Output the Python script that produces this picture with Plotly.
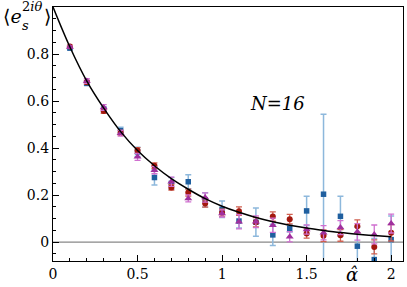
import plotly.graph_objects as go

alpha = [0.1, 0.2, 0.3, 0.4, 0.5, 0.6, 0.7, 0.8, 0.9, 1.0,
         1.1, 1.2, 1.3, 1.4, 1.5, 1.6, 1.7, 1.8, 1.9, 2.0]

blue = [0.825, 0.675, 0.565, 0.474, 0.384, 0.275, 0.250, 0.257, 0.180, 0.140,
        0.090, 0.085, 0.031, 0.058, 0.133, 0.204, 0.110, -0.017, -0.074, 0.011]
blue_err = [0.005, 0.008, 0.010, 0.015, 0.020, 0.032, 0.025, 0.030, 0.030, 0.035,
            0.030, 0.060, 0.045, 0.015, 0.062, 0.340, 0.085, 0.080, 0.090, 0.100]

red = [0.832, 0.680, 0.558, 0.465, 0.390, 0.325, 0.233, 0.211, 0.164, 0.125,
       0.132, 0.085, 0.109, 0.098, 0.037, 0.027, 0.029, 0.068, -0.020, 0.040]
red_err = [0.005, 0.008, 0.010, 0.010, 0.012, 0.012, 0.012, 0.015, 0.015, 0.015,
           0.018, 0.020, 0.020, 0.020, 0.020, 0.025, 0.025, 0.027, 0.030, 0.035]

purple = [0.830, 0.685, 0.573, 0.463, 0.363, 0.306, 0.257, 0.186, 0.190, 0.122,
          0.087, 0.087, 0.072, 0.023, 0.054, 0.040, 0.062, 0.044, 0.033, 0.079]
purple_err = [0.005, 0.010, 0.012, 0.012, 0.015, 0.015, 0.020, 0.015, 0.020, 0.015,
              0.030, 0.025, 0.030, 0.022, 0.020, 0.030, 0.030, 0.035, 0.040, 0.040]

curve_x = [0.0, 0.1, 0.2, 0.3, 0.4, 0.5, 0.6, 0.7, 0.8, 0.9, 1.0,
           1.1, 1.2, 1.3, 1.4, 1.5, 1.6, 1.7, 1.8, 1.9, 2.0]
curve_y = [1.0, 0.83, 0.685, 0.57, 0.47, 0.39, 0.325, 0.27, 0.225, 0.185, 0.153,
           0.127, 0.105, 0.087, 0.072, 0.06, 0.05, 0.041, 0.034, 0.028, 0.023]

x_ticks = [0, 0.5, 1, 1.5, 2]
x_tick_labels = ["0", "0.5", "1", "1.5", "2"]
y_ticks = [0, 0.2, 0.4, 0.6, 0.8, 1]
y_tick_labels = ["0", "0.2", "0.4", "0.6", "0.8", "1"]

FONT = "DejaVu Serif"

fig = go.Figure()

# zero line
fig.add_trace(go.Scatter(x=[0, 2.07], y=[0, 0], mode="lines",
                         line=dict(color="#888888", width=1.2), hoverinfo="skip",
                         showlegend=False))

fig.add_trace(go.Scatter(
    x=alpha, y=blue, mode="markers",
    error_y=dict(type="data", array=blue_err, color="#8db8dc", thickness=1.5, width=3),
    marker=dict(symbol="square", size=5.5, color="#1f5f9f"), showlegend=False))

fig.add_trace(go.Scatter(
    x=alpha, y=red, mode="markers",
    error_y=dict(type="data", array=red_err, color="#d06050", thickness=1.3, width=3),
    marker=dict(symbol="circle", size=6, color="#a3180e"), showlegend=False))

fig.add_trace(go.Scatter(
    x=alpha, y=purple, mode="markers",
    error_y=dict(type="data", array=purple_err, color="#d070d0", thickness=1.3, width=3),
    marker=dict(symbol="triangle-up", size=7, color="#a0309e"), showlegend=False))

fig.add_trace(go.Scatter(x=curve_x, y=curve_y, mode="lines",
                         line=dict(color="black", width=1.5, shape="spline"),
                         showlegend=False))

axis_common = dict(
    showline=True, linecolor="black", linewidth=1.2, mirror=True,
    ticks="inside", ticklen=6, tickwidth=1, tickcolor="black",
    showgrid=False, zeroline=False,
    tickfont=dict(size=14, color="black"),
)

fig.update_xaxes(range=[0, 2.07], tickvals=x_ticks, ticktext=x_tick_labels,
                 minor=dict(dtick=0.1, tick0=0, ticks="inside", ticklen=3,
                            tickcolor="black", tickwidth=1),
                 **axis_common)
fig.update_yaxes(range=[-0.08, 1.0], tickvals=y_ticks, ticktext=y_tick_labels,
                 minor=dict(dtick=0.05, tick0=0, ticks="inside", ticklen=3,
                            tickcolor="black", tickwidth=1),
                 **axis_common)

W, H = 407, 287
L, R, T, B = 53, 4, 7, 26
pw, ph = W - L - R, H - T - B


def px(xp):
    return (xp - L) / pw


def py(yp):
    return (H - B - yp) / ph


ann = [
    dict(text="⟨<i>e</i>", x=px(1), y=py(29), xanchor="left", yanchor="bottom",
         font=dict(size=19)),
    dict(text="<i>s</i>", x=px(20), y=py(35), xanchor="left", yanchor="bottom",
         font=dict(size=13)),
    dict(text="2<i>iθ</i>", x=px(20), y=py(16), xanchor="left", yanchor="bottom",
         font=dict(size=13)),
    dict(text="⟩", x=px(42), y=py(29), xanchor="left", yanchor="bottom",
         font=dict(size=19)),
    dict(text="<i>N</i>=<i>16</i>", x=1.33, y=0.59, xref="x", yref="y",
         xanchor="center", yanchor="middle",
         font=dict(size=18)),
    dict(text="<i>α̂</i>", x=1.77, y=py(287), xref="x", xanchor="center",
         yanchor="bottom", font=dict(size=18)),
]
for a in ann:
    a.setdefault("xref", "paper")
    a.setdefault("yref", "paper")
    a["showarrow"] = False
    a["font"]["color"] = "black"
fig.update_layout(annotations=ann)

fig.update_layout(width=W, height=H, margin=dict(l=L, r=R, t=T, b=B),
                  font=dict(family=FONT, color="black"),
                  plot_bgcolor="white", paper_bgcolor="white")

fig.write_html("out.html", config={"displayModeBar": False},
               post_script="document.body.style.margin='0';document.body.style.padding='0';")
